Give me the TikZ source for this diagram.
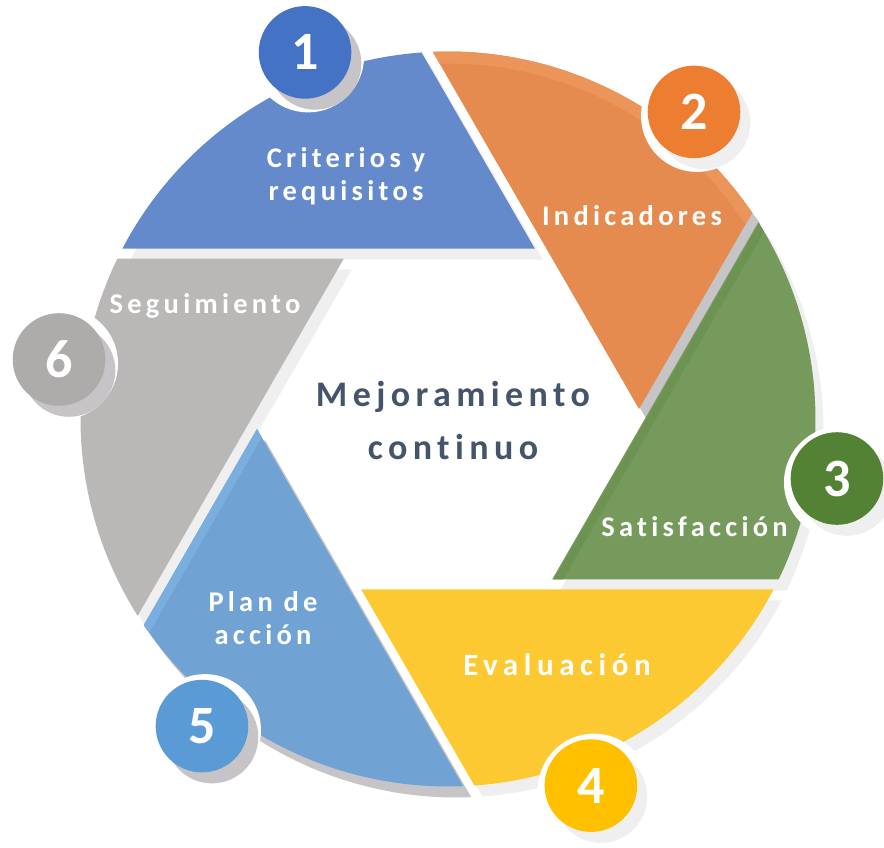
\documentclass[tikz,border=0pt]{standalone}
\usepackage{fontspec}
\newfontfamily\lblfont{Carlito}[LetterSpace=15,Ligatures=NoCommon]
\newfontfamily\widefont{Carlito}[LetterSpace=18,Ligatures=NoCommon]
\newfontfamily\numfont{Carlito}
\usetikzlibrary{calc}
\definecolor{seg1}{HTML}{658ACB}
\definecolor{seg2}{HTML}{E68B4F}
\definecolor{seg3}{HTML}{759A5B}
\definecolor{seg4}{HTML}{FCC932}
\definecolor{seg5}{HTML}{70A3D3}
\definecolor{seg6}{HTML}{BAB8B7}
\definecolor{band2}{HTML}{EB955B}
\definecolor{band3}{HTML}{6C9351}
\definecolor{band5}{HTML}{7AAEDF}
\definecolor{c1}{HTML}{4472C4}
\definecolor{c2}{HTML}{ED7D31}
\definecolor{c3}{HTML}{548235}
\definecolor{c4}{HTML}{FFC000}
\definecolor{c5}{HTML}{5B9BD5}
\definecolor{c6}{HTML}{AEABAB}
\definecolor{shL}{HTML}{EFEFEF}
\definecolor{shD}{HTML}{C6C4C6}
\definecolor{titlecol}{HTML}{44546A}
\begin{document}
\begin{tikzpicture}[x=10pt,y=10pt,
  numc/.style={circle, minimum size=92.6pt, inner sep=0pt, text=white,
    font=\numfont\bfseries\fontsize{54}{54}\selectfont},
  lbl/.style={text=white, align=center, inner sep=0pt,
    font=\lblfont\bfseries\fontsize{28.5}{33}\selectfont},
  lblwide/.style={text=white, align=center, inner sep=0pt,
    font=\widefont\bfseries\fontsize{31}{36}\selectfont},
  titletext/.style={text=titlecol, align=center, inner sep=0pt,
    font=\lblfont\bfseries\fontsize{36}{53}\selectfont}]
\useasboundingbox (-44.8,-42.8) rectangle (43.6,41.9);
\pgfmathsetmacro{\R}{36.75}
\pgfmathsetmacro{\hr}{19.1}
\pgfmathsetmacro{\g}{0.5}
\pgfmathsetmacro{\ax}{\hr*0.5-1.7320508*\g}
\pgfmathsetmacro{\ay}{\hr*0.8660254+\g}
\pgfmathsetmacro{\apr}{sqrt(\ax*\ax+\ay*\ay)}
\pgfmathsetmacro{\apa}{atan2(\ay,\ax)}
\pgfmathsetmacro{\hP}{0.8660254*\ax+0.5*\ay}
\pgfmathsetmacro{\pa}{30+acos(\hP/\R)}
\pgfmathsetmacro{\qa}{90+acos(\ay/\R)}
% segment shadows
\foreach \n/\sc in {1/shL,2/shD,3/shL,4/shL,5/shD,6/shL}{
  \pgfmathsetmacro{\rot}{-60*(\n-1)}
  \pgfmathsetmacro{\A}{\apa+\rot}
  \pgfmathsetmacro{\S}{\pa+\rot}
  \pgfmathsetmacro{\E}{\qa+\rot}
  \fill[\sc, shift={(0.8,-1.1)}] (\A:\apr) -- (\S:\R) arc[start angle=\S, end angle=\E, radius=\R] -- cycle;
}
% segments
\foreach \n in {1,...,6}{
  \pgfmathsetmacro{\rot}{-60*(\n-1)}
  \pgfmathsetmacro{\A}{\apa+\rot}
  \pgfmathsetmacro{\S}{\pa+\rot}
  \pgfmathsetmacro{\E}{\qa+\rot}
  \fill[seg\n] (\A:\apr) -- (\S:\R) arc[start angle=\S, end angle=\E, radius=\R] -- cycle;
  \begin{scope}
    \clip (\A:\apr) -- (\S:\R) arc[start angle=\S, end angle=\E, radius=\R] -- cycle;
    \ifnum\n=2
      \fill[band2, even odd rule] (0,0) circle[radius=\R] (0,0) circle[radius=\R-1.2];
    \fi
    \ifnum\n=3
      \begin{scope}[rotate=\rot]
        \fill[band3] (-40,\ay+0.15) rectangle (\ax+5,\ay+0.95);
      \end{scope}
    \fi
    \ifnum\n=5
      \begin{scope}[rotate=\rot, shift={(\ax,\ay)}, rotate=120]
        \fill[band5] (-5,0) rectangle (40,0.85);
      \end{scope}
    \fi
  \end{scope}
}
% number circles
\foreach \n/\sc in {1/shD,2/shL,3/shL,4/shL,5/shD,6/shD}{
  \pgfmathsetmacro{\ang}{111.3-60*(\n-1)}
  \fill[white] ($(\ang:39.35)+(0.3,-0.4)$) circle[radius=5.6];
  \fill[\sc] ($(\ang:39.35)+(1.0,-1.1)$) circle[radius=4.63];
  \node[numc, fill=c\n] (num\n) at (\ang:39.35) {\n};
}
% labels
\node[lbl] (t1) at (-10.2,24.3) {Criterios y\\requisitos};
\node[lbl] (t2) at (18.4,20.3) {Indicadores};
\node[lbl] (t3) at (24.65,-10.8) {Satisfacción};
\node[lblwide] (t4) at (10.9,-24.6) {Evaluación};
\node[lbl] (t5) at (-18.5,-19.9) {Plan de\\acción};
\node[lbl] (t6) at (-24.3,11.3) {Seguimiento};
\node[titletext] (center) at (0.5,-0.1) {Mejoramiento\\continuo};
\end{tikzpicture}
\end{document}
